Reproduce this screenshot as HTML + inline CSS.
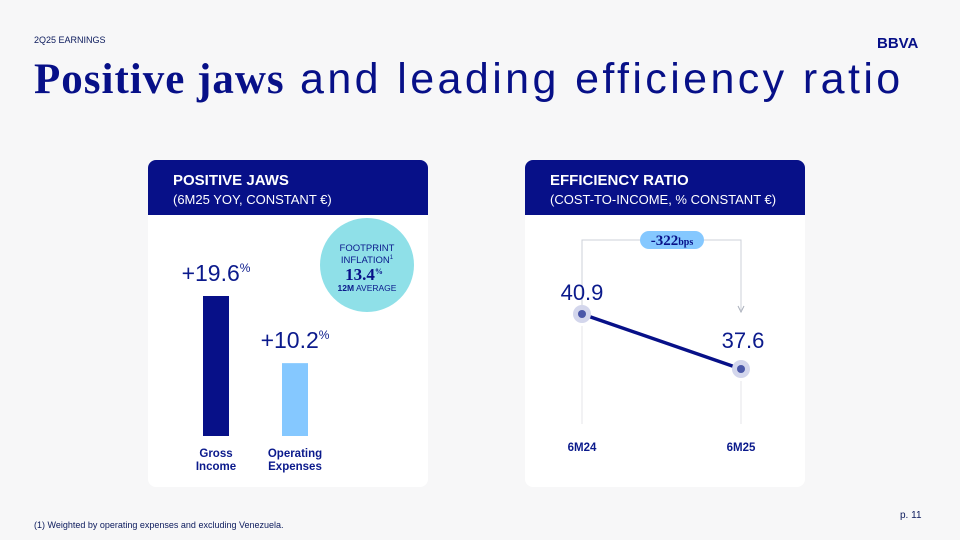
<!DOCTYPE html>
<html><head><meta charset="utf-8">
<style>
body{margin:0;width:960px;height:540px;background:#f7f7f8;font-family:"Liberation Sans",sans-serif;position:relative;overflow:hidden;color:#0b1a8c}
.abs{position:absolute}
.panel{position:absolute;top:160px;width:280px;height:327px;background:#fff;border-radius:8px;overflow:hidden}
.hdr{position:absolute;left:0;top:0;width:100%;height:55px;background:#071088;color:#fff}
.hdr .t{position:absolute;left:25px;top:12px;font-weight:bold;font-size:15px}
.hdr .s{position:absolute;left:25px;top:32px;font-size:13px}
</style></head><body>
<div class="abs" style="left:34px;top:35px;font-size:9px;color:#0b1a5c">2Q25 EARNINGS</div>
<div class="abs" style="left:877px;top:35px;font-size:15px;font-weight:bold;letter-spacing:0px;color:#071088">BBVA</div>
<div class="abs" style="left:34px;top:55px;font-size:43px;letter-spacing:3.4px;color:#071088;white-space:nowrap"><span style="font-family:'Liberation Serif',serif;font-weight:bold;letter-spacing:1px">Positive jaws</span> and leading efficiency ratio</div>

<div class="panel" style="left:148px">
 <div class="hdr"><div class="t">POSITIVE JAWS</div><div class="s">(6M25 YOY, CONSTANT €)</div></div>
</div>
<div class="panel" style="left:525px">
 <div class="hdr"><div class="t">EFFICIENCY RATIO</div><div class="s">(COST-TO-INCOME, % CONSTANT €)</div></div>
</div>

<svg class="abs" style="left:0;top:0" width="960" height="540" id="chart">
 <circle cx="367" cy="265" r="47" fill="#8fe0e8"/>
 <text x="367" y="251" text-anchor="middle" font-size="9.5" fill="#0b1a8c">FOOTPRINT</text>
 <text x="367" y="263" text-anchor="middle" font-size="9.5" fill="#0b1a8c">INFLATION<tspan font-size="6" dy="-4">1</tspan></text>
 <text x="364" y="280" text-anchor="middle" font-size="17" font-weight="bold" font-family="Liberation Serif,serif" fill="#071088">13.4<tspan font-size="8" dy="-6">%</tspan></text>
 <text x="367" y="291" text-anchor="middle" font-size="8.5" fill="#0b1a8c"><tspan font-weight="bold">12M</tspan> AVERAGE</text>
 <g id="bars"></g>
 <g id="line"></g>
</svg>
<div class="abs" style="left:900px;top:510px;font-size:10px;color:#0b1a5c">p. 11</div>
<div class="abs" style="left:34px;top:520px;font-size:9px;color:#0b1a5c">(1) Weighted by operating expenses and excluding Venezuela.</div>
<script>
const barCategories=["Gross Income","Operating Expenses"];
const barValues=[19.6,10.2];
const barLabels=["+19.6","+10.2"];
const lineCategories=["6M24","6M25"];
const lineValues=[40.9,37.6];
const deltaLabel="-322";
const NS="http://www.w3.org/2000/svg";
function mk(t,a,p){const e=document.createElementNS(NS,t);for(const k in a)e.setAttribute(k,a[k]);p.appendChild(e);return e;}
const bx=[203,282],base=436,bs=140/19.6;
const barY=v=>base-v*bs;
const colors=["#071088","#85c8ff"];
const gb=document.getElementById('bars');
barValues.forEach((v,i)=>{
 const r=mk('rect',{x:bx[i],y:barY(v),width:26,height:base-barY(v),fill:colors[i]},gb);
 
 
 const t=mk('text',{x:bx[i]+13,y:barY(v)-15,'text-anchor':'middle','font-size':'23',fill:'#0b1a8c'},gb);
 
 
 t.innerHTML=barLabels[i]+'<tspan font-size="12" dy="-9">%</tspan>';
 const w=barCategories[i].split(' ');
 w.forEach((s,j)=>{const l=mk('text',{x:bx[i]+13,y:457+j*13,'text-anchor':'middle','font-size':'11.5','font-weight':'bold',fill:'#0b1a8c'},gb);l.textContent=s;
 
 });
});
const lx=[582,741];
const ly=v=>314+(40.9-v)*(55/3.3);
const gl=document.getElementById('line');
mk('path',{d:`M${lx[0]} 305 V240 H${lx[1]} V310`,fill:'none',stroke:'#ccd0d8','stroke-width':1},gl);
mk('path',{d:`M${lx[1]-3} 306 L${lx[1]} 312 L${lx[1]+3} 306`,fill:'none',stroke:'#aab0bc','stroke-width':1},gl);
lx.forEach(x=>mk('line',{x1:x,x2:x,y1:ly(lineValues[lx.indexOf(x)])+12,y2:424,stroke:'#e4e6ea','stroke-width':1},gl));
const pill=mk('rect',{x:640,y:231,width:64,height:18,rx:9,fill:'#85c8ff'},gl);


const dt=mk('text',{x:672,y:245,'text-anchor':'middle','font-size':'15','font-weight':'bold','font-family':'Liberation Serif,serif',fill:'#071088'},gl);
dt.innerHTML=deltaLabel+'<tspan font-size="10">bps</tspan>';
const pl=mk('line',{x1:lx[0],y1:ly(lineValues[0]),x2:lx[1],y2:ly(lineValues[1]),stroke:'#071088','stroke-width':3.5},gl);


lineValues.forEach((v,i)=>{
 mk('circle',{cx:lx[i],cy:ly(v),r:9,fill:'#d3d6ec'},gl);
 const c=mk('circle',{cx:lx[i],cy:ly(v),r:4,fill:'#4a57a8'},gl);
 
 
 const t=mk('text',{x:lx[i]+(i?2:0),y:ly(v)-(i?21:14),'text-anchor':'middle','font-size':'22',fill:'#0b1a8c'},gl);
 t.textContent=v.toFixed(1);
 
 
 const l=mk('text',{x:lx[i],y:451,'text-anchor':'middle','font-size':'11.5','font-weight':'bold',fill:'#0b1a8c'},gl);
 l.textContent=lineCategories[i];
 
 
});
</script>
</body></html>
